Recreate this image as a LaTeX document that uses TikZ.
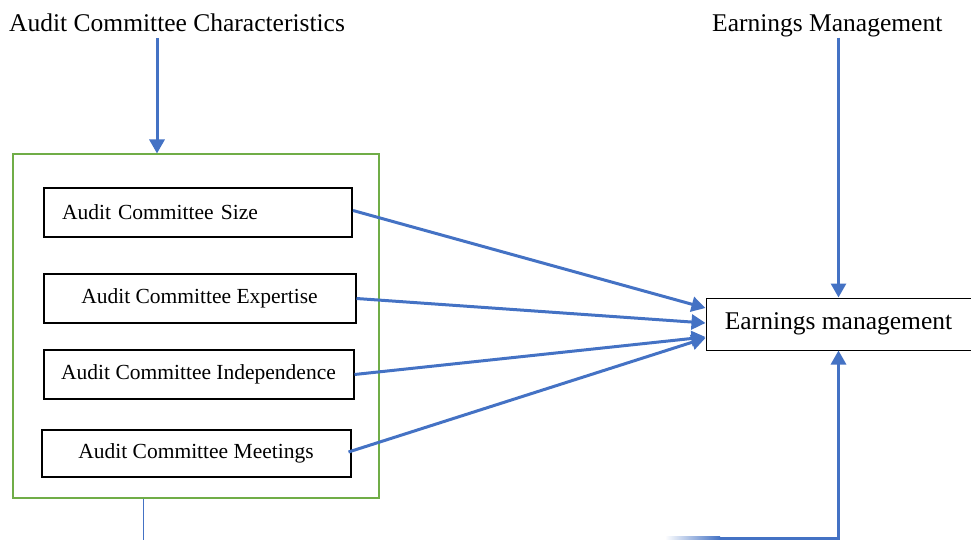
\documentclass[tikz,border=0pt]{standalone}
\usepackage{fontspec}
\setmainfont{Liberation Serif}
\usetikzlibrary{arrows.meta}
\definecolor{acblue}{HTML}{4472C4}
\definecolor{acgreen}{HTML}{70AD47}
\tikzset{
  flow/.style={draw=acblue,line width=3pt,-{Triangle[length=14pt,width=15pt]}},
  acbox/.style={draw,line width=2pt,minimum height=49pt,font=\fontsize{21.5}{24}\selectfont},
  title/.style={inner sep=0pt,anchor=base west,font=\fontsize{25.5}{30}\selectfont}
}
\begin{document}
\begin{tikzpicture}[x=1pt,y=-1pt]
\useasboundingbox (0,0) rectangle (971,540);
% titles
\node[title] (act) at (9,32) {Audit Committee Characteristics};
\node[title] (emt) at (712,32) {Earnings Management};
% group and the four boxes
\node[draw=acgreen,line width=2pt,minimum width=366pt,minimum height=343pt] (chars) at (195.5,326) {};
\node[acbox,text width=272pt,align=left,inner xsep=18pt] (size) at (198,212.5) {Audit Committee Size};
\node[acbox,minimum width=312pt] (expert) at (199.5,298.5) {Audit Committee Expertise};
\node[acbox,minimum width=310pt] (indep) at (198.5,374.5) {Audit Committee Independence};
\node[acbox,minimum width=309pt,minimum height=47pt] (meet) at (196,453) {Audit Committee Meetings};
\node[draw,line width=1pt,minimum width=265pt,minimum height=52pt,font=\fontsize{25.5}{30}\selectfont] (em) at (838.5,324) {Earnings management};
\coordinate (actail) at (157,38);
\coordinate (gap) at (143,540);
\coordinate (back) at (720,538);

\draw[flow](actail)--(actail|-chars.north);
\draw[flow](em.north|-emt.south)--(em.north);
\draw[flow]([yshift=2pt]size.east)--([yshift=16pt]em.west);
\draw[flow](expert.east)--([yshift=1pt]em.west);
\draw[flow](indep.east)--([yshift=-13pt]em.west);
\draw[flow]([xshift=-3pt,yshift=1pt]meet.east)--([yshift=-14pt]em.west);
\draw[acblue,line width=1pt](chars.south-|gap)--(gap);
\shade[left color=white,right color=acblue](665,536.5)rectangle(back|-0,539.5);
\draw[flow](back)-|(em.south);
\end{tikzpicture}
\end{document}
